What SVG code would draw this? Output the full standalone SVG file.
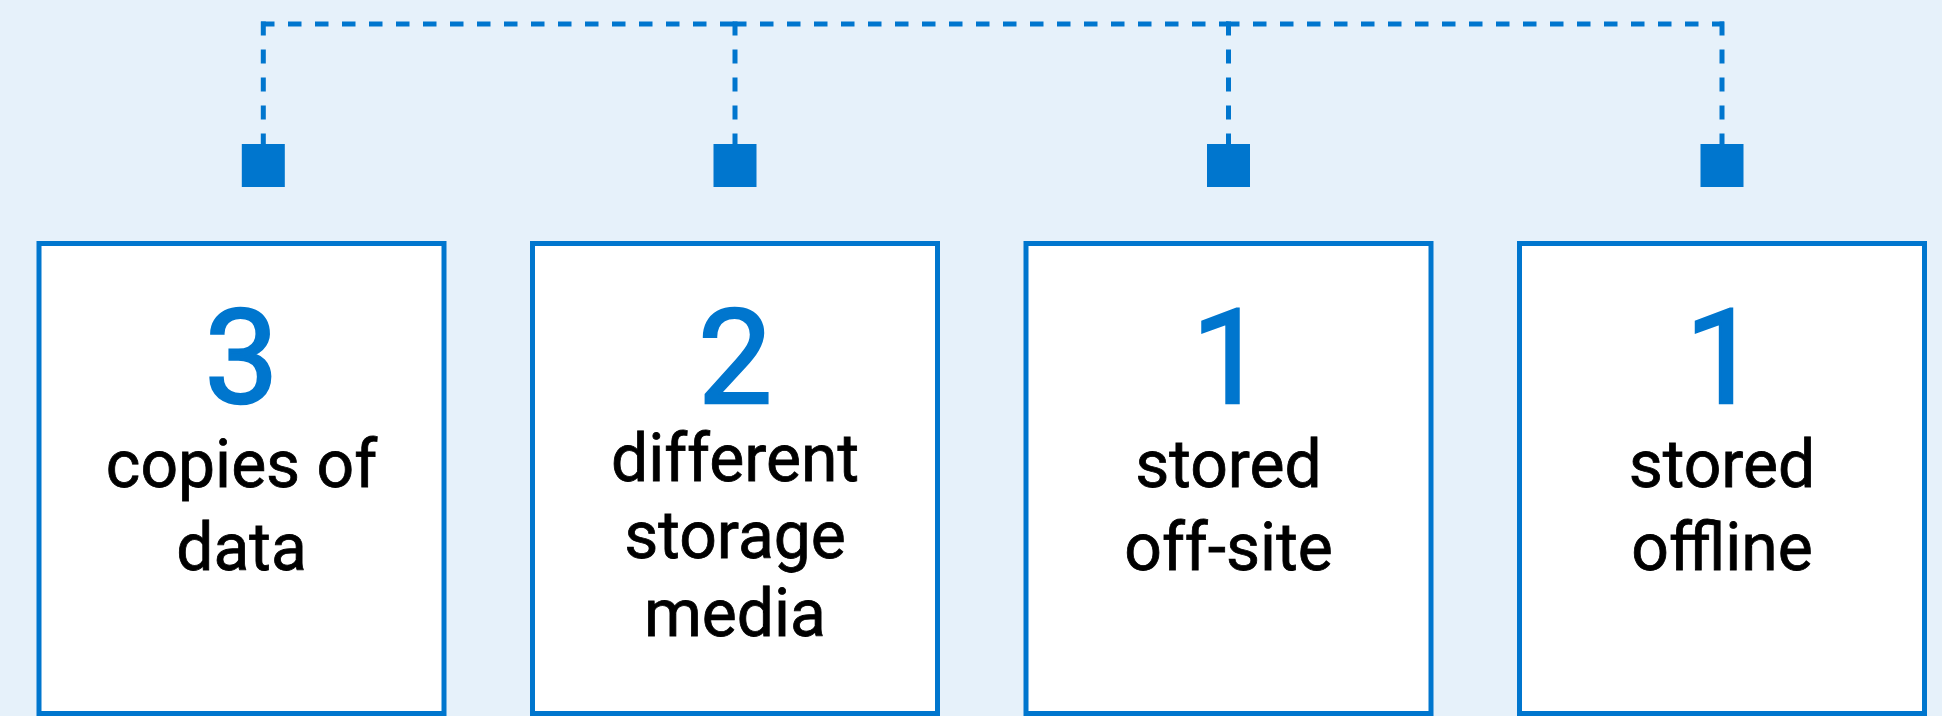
<svg xmlns="http://www.w3.org/2000/svg" width="1942" height="716" viewBox="0 0 1942 716">
<style>
.bg{fill:#E6F1FA}
.box{fill:#FFFFFF;stroke:#0076CE;stroke-width:5}
.sq{fill:#0076CE}
.dash{fill:none;stroke:#0076CE;stroke-width:5;stroke-dasharray:13.5 13.5}
.vdash{fill:none;stroke:#0076CE;stroke-width:5;stroke-dasharray:14 14}
.num{font-family:Roboto,"Liberation Sans",sans-serif;font-weight:400;font-size:132px;fill:#0076CE;stroke:#0076CE;stroke-width:2.5;text-anchor:middle}
.lbl{font-family:Roboto,"Liberation Sans",sans-serif;font-size:66px;fill:#000000;stroke:#000000;stroke-width:0.8;text-anchor:middle}
</style>
<rect class="bg" x="0" y="0" width="1942" height="716"/>
<g id="connectors">
<path class="dash" d="M261 24 H735"/>
<path class="dash" d="M733 24 H1228.5"/>
<path class="dash" d="M1226 24 H1724"/>
<path class="vdash" d="M263.3 21.5 V144"/>
<path class="vdash" d="M735 21.5 V144"/>
<path class="vdash" d="M1228.5 21.5 V144"/>
<path class="vdash" d="M1722 21.5 V144"/>
<rect class="sq" x="241.8" y="144" width="43" height="43"/>
<rect class="sq" x="713.5" y="144" width="43" height="43"/>
<rect class="sq" x="1207" y="144" width="43" height="43"/>
<rect class="sq" x="1700.5" y="144" width="43" height="43"/>
</g>
<g id="node-copies">
<rect class="box" x="39" y="243.5" width="405" height="470"/>
<text class="num" x="241.5" y="403">3</text>
<text class="lbl" x="241.5" y="487">copies of</text>
<text class="lbl" x="241.5" y="570">data</text>
</g>
<g id="node-media">
<rect class="box" x="532.5" y="243.5" width="405" height="470"/>
<text class="num" x="735" y="403">2</text>
<text class="lbl" x="735" y="481">different</text>
<text class="lbl" x="735" y="558">storage</text>
<text class="lbl" x="735" y="636">media</text>
</g>
<g id="node-offsite">
<rect class="box" x="1026" y="243.5" width="405" height="470"/>
<text class="num" x="1228.5" y="403">1</text>
<text class="lbl" x="1228.5" y="487">stored</text>
<text class="lbl" x="1228.5" y="570">off-site</text>
</g>
<g id="node-offline">
<rect class="box" x="1519.5" y="243.5" width="405" height="470"/>
<text class="num" x="1722" y="403">1</text>
<text class="lbl" x="1722" y="487">stored</text>
<text class="lbl" x="1722" y="570">offline</text>
</g>
</svg>
